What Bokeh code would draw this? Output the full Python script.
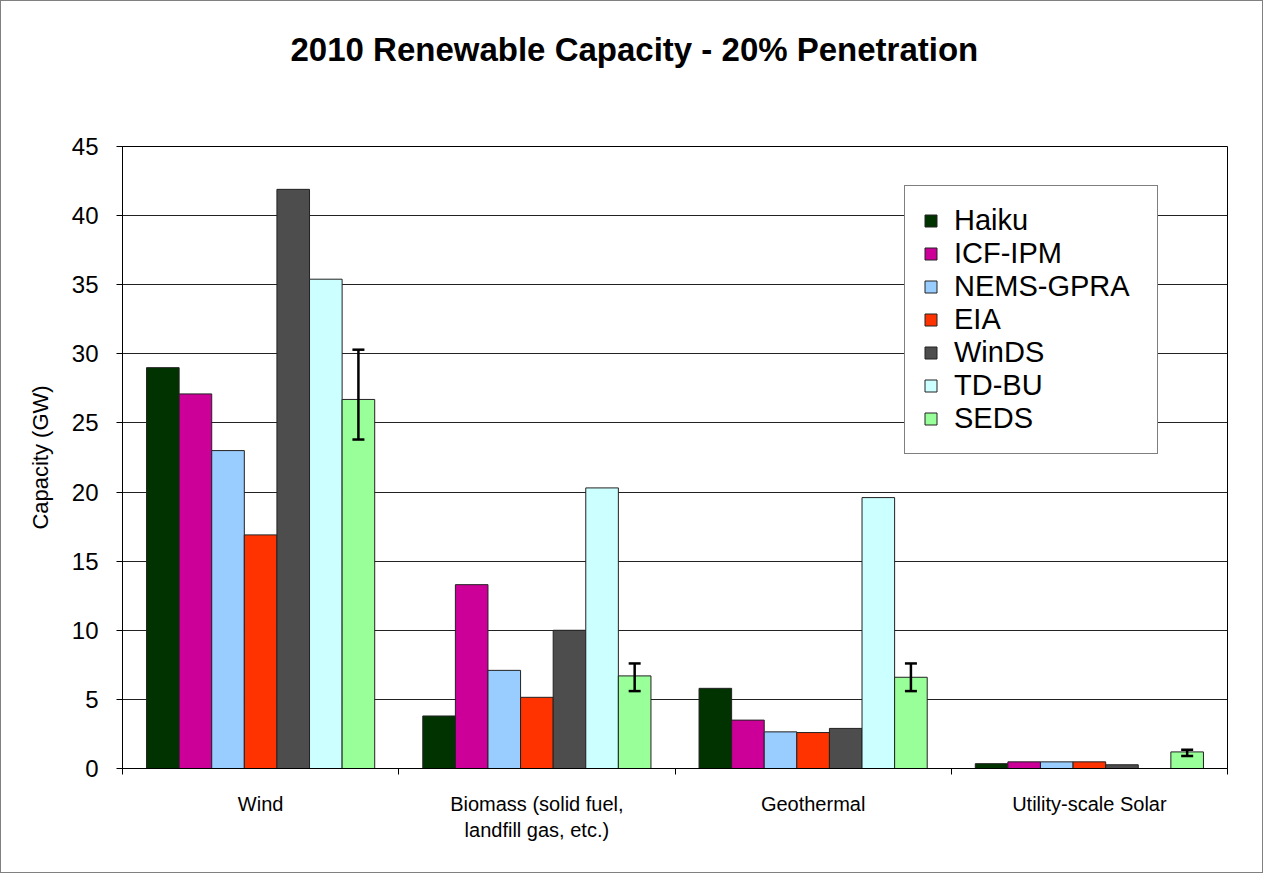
import numpy as np
from bokeh.plotting import figure
from bokeh.models import (ColumnDataSource, FixedTicker, Legend, LegendItem,
                          Whisker, TeeHead, Range1d, Title)
from bokeh.embed import file_html
from bokeh.resources import INLINE

# ---- data -----------------------------------------------------------------
categories = ["Wind", "Biomass (solid fuel,\nlandfill gas, etc.)",
              "Geothermal", "Utility-scale Solar"]
models = ["Haiku", "ICF-IPM", "NEMS-GPRA", "EIA", "WinDS", "TD-BU", "SEDS"]
haiku = [29.0, 3.8, 5.8, 0.35]
icf_ipm = [27.1, 13.3, 3.5, 0.48]
nems_gpra = [23.0, 7.1, 2.65, 0.48]
eia = [16.9, 5.15, 2.6, 0.48]
winds = [41.9, 10.0, 2.9, 0.27]
td_bu = [35.4, 20.3, 19.6, 0.0]
seds = [26.7, 6.7, 6.6, 1.2]
seds_low = [23.8, 5.6, 5.6, 0.9]
seds_high = [30.3, 7.6, 7.6, 1.35]
y_ticks = [0, 5, 10, 15, 20, 25, 30, 35, 40, 45]
title_text = "2010 Renewable Capacity - 20% Penetration"

colors = ["#003300", "#cc0099", "#99ccff", "#ff3300", "#4d4d4d", "#ccffff", "#99ff99"]
series = [haiku, icf_ipm, nems_gpra, eia, winds, td_bu, seds]

FONT = "Liberation Sans"

p = figure(width=1263, height=873, output_backend="svg", toolbar_location=None,
           x_range=Range1d(0, len(categories)), y_range=Range1d(0, 45),
           min_border_left=121, min_border_right=37, min_border_top=145,
           min_border_bottom=106)
p.styles = {"border": "1px solid #808080"}

bar_w = 0.118
centers = np.arange(len(categories)) + 0.5
renderers = []
for i, (name, vals, col) in enumerate(zip(models, series, colors)):
    xs = centers + (i - 3) * bar_w
    src = ColumnDataSource(dict(x=xs, top=vals))
    r = p.vbar(x="x", top="top", width=bar_w, source=src, fill_color=col,
               line_color="#222222", line_width=1)
    renderers.append(r)

# error bars on SEDS
err_src = ColumnDataSource(dict(x=centers + 3 * bar_w, lo=seds_low, hi=seds_high))
wh = Whisker(base="x", lower="lo", upper="hi", source=err_src, level="overlay",
             line_color="black", line_width=2.5,
             upper_head=TeeHead(size=12, line_width=2.5, line_color="black"),
             lower_head=TeeHead(size=12, line_width=2.5, line_color="black"))
p.add_layout(wh)

# title: spacer title next to the frame, real title outside it
p.title = None
spacer = Title(text=" ", text_font_size="1px", standoff=76)
main_title = Title(text=title_text, align="left", offset=168, standoff=0,
                   text_font=FONT, text_font_size="33px", text_font_style="bold",
                   text_color="black")
p.add_layout(spacer, "above")
p.add_layout(main_title, "above")

# x axis
p.xaxis.ticker = FixedTicker(ticks=list(centers), minor_ticks=list(range(len(categories) + 1)))
p.xaxis.major_label_overrides = {float(c): lab for c, lab in zip(centers, categories)}
p.xaxis.major_tick_out = 0
p.xaxis.major_tick_in = 0
p.xaxis.minor_tick_out = 6
p.xaxis.minor_tick_in = 0
p.xaxis.major_label_standoff = 18
p.xaxis.major_label_text_font = FONT
p.xaxis.major_label_text_font_size = "20px"
p.xaxis.major_label_text_color = "black"
p.xaxis.axis_line_color = "black"
p.xaxis.minor_tick_line_color = "black"

# y axis
p.yaxis.ticker = FixedTicker(ticks=y_ticks)
p.yaxis.axis_label = "Capacity (GW)"
p.yaxis.axis_label_text_font = FONT
p.yaxis.axis_label_text_font_size = "22px"
p.yaxis.axis_label_text_font_style = "normal"
p.yaxis.axis_label_text_color = "black"
p.yaxis.axis_label_standoff = 16
p.yaxis.major_tick_out = 6
p.yaxis.major_tick_in = 0
p.yaxis.major_label_standoff = 18
p.yaxis.major_label_text_font = FONT
p.yaxis.major_label_text_font_size = "24px"
p.yaxis.major_label_text_color = "black"
p.yaxis.axis_line_color = "black"
p.yaxis.major_tick_line_color = "black"

# grid / frame
p.xgrid.grid_line_color = None
p.ygrid.grid_line_color = "#222222"
p.ygrid.grid_line_width = 1
p.outline_line_color = "black"
p.outline_line_width = 1
p.background_fill_color = "white"
p.border_fill_color = "white"

legend = Legend(items=[LegendItem(label=m, renderers=[r]) for m, r in zip(models, renderers)],
                location=(782, 314), border_line_color="black", border_line_width=1,
                background_fill_color="white", background_fill_alpha=1,
                label_text_font=FONT, label_text_font_size="29px", label_text_color="black",
                glyph_width=15, glyph_height=15, label_height=30, label_width=185,
                spacing=0, padding=18, margin=0, label_standoff=16)
p.add_layout(legend, "center")

open("out.html", "w").write(file_html(p, INLINE))
